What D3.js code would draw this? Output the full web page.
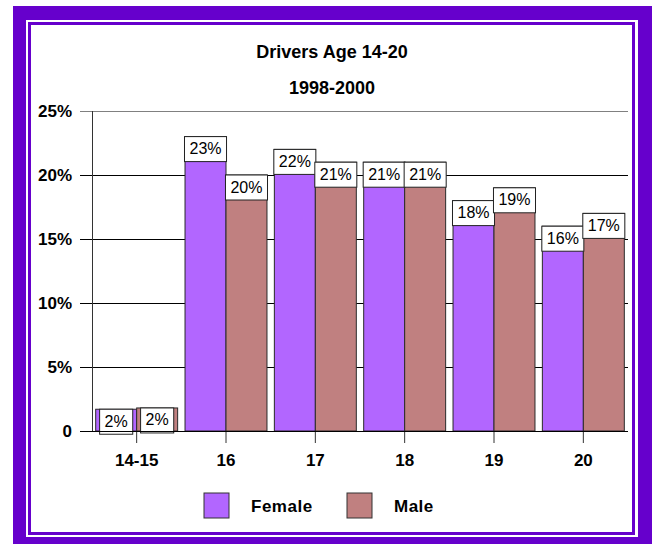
<!DOCTYPE html>
<html>
<head>
<meta charset="utf-8">
<script src="https://cdn.jsdelivr.net/npm/d3@7"></script>
<style>
  body { margin: 0; background: #fff; }
  text { font-family: "Liberation Sans", Arial, sans-serif; }
</style>
</head>
<body>
<script>
// Data (percent of drivers)
const ageGroups = ["14-15", "16", "17", "18", "19", "20"];
const series = ["Female", "Male"];
const femalePct = [1.7, 23, 22, 21, 18, 16];
const malePct = [1.8, 20, 21, 21, 19, 17];
const yTicks = [0, 5, 10, 15, 20, 25];
const titleLines = ["Drivers Age 14-20", "1998-2000"];

const colors = { Female: "#b266ff", Male: "#c08080" };
const purple = "#6600cc";

const width = 652, height = 544;
const plot = { left: 92, right: 628, top: 111, bottom: 431 };

const svg = d3.select("body").append("svg")
    .attr("width", width)
    .attr("height", height);

// double purple frame
svg.append("rect").attr("x", 13).attr("y", 6).attr("width", 639).attr("height", 538).attr("fill", purple);
svg.append("rect").attr("x", 26).attr("y", 20).attr("width", 612).attr("height", 517).attr("fill", "#fff");
svg.append("rect").attr("x", 29.5).attr("y", 23.5).attr("width", 604).attr("height", 510)
    .attr("fill", "#fff").attr("stroke", purple).attr("stroke-width", 3);

// title
svg.append("g").selectAll("text")
  .data(titleLines)
  .join("text")
    .attr("x", 332)
    .attr("y", (d, i) => 58 + i * 36)
    .attr("text-anchor", "middle")
    .style("font-size", "18px")
    .style("font-weight", "bold")
    .text(d => d);

// scales
const x = d3.scaleBand()
    .domain(ageGroups)
    .range([plot.left, plot.right]);

const xs = d3.scaleBand()
    .domain(series)
    .range([0, x.bandwidth()])
    .paddingOuter(0.09);

const y = d3.scaleLinear()
    .domain([0, 25])
    .range([plot.bottom, plot.top]);

// gridlines
svg.append("g").selectAll("line")
  .data(yTicks)
  .join("line")
    .attr("x1", plot.left - 12)
    .attr("x2", plot.right)
    .attr("y1", d => y(d) + 0.5)
    .attr("y2", d => y(d) + 0.5)
    .attr("stroke", d => d === 25 ? "#808080" : "#000")
    .attr("stroke-width", 1);

// y axis labels
const yAxis = svg.append("g")
    .attr("transform", `translate(${plot.left},0)`)
    .call(d3.axisLeft(y).tickValues(yTicks).tickSize(12).tickPadding(8)
      .tickFormat(d => d === 0 ? "0" : d + "%"));
yAxis.select(".domain").remove();
yAxis.selectAll(".tick line").remove();
yAxis.selectAll("text")
    .style("font-size", "17px")
    .style("font-weight", "bold")
    .attr("fill", "#000");

svg.append("line")
    .attr("x1", plot.left + 0.5).attr("x2", plot.left + 0.5)
    .attr("y1", plot.top).attr("y2", plot.bottom)
    .attr("stroke", "#333");

// bars
const rows = ageGroups.map((g, i) => ({
  group: g,
  values: [
    { key: "Female", value: femalePct[i] },
    { key: "Male", value: malePct[i] }
  ]
}));

const groups = svg.append("g").selectAll("g")
  .data(rows)
  .join("g")
    .attr("transform", d => `translate(${x(d.group)},0)`);

groups.selectAll("rect")
  .data(d => d.values)
  .join("rect")
    .attr("x", d => xs(d.key))
    .attr("y", d => y(d.value))
    .attr("width", xs.bandwidth())
    .attr("height", d => y(0) - y(d.value))
    .attr("fill", d => colors[d.key])
    .attr("stroke", "#2a2a2a")
    .attr("stroke-width", 1);

// x axis
const xAxis = svg.append("g")
    .attr("transform", `translate(0,${plot.bottom})`)
    .call(d3.axisBottom(x).tickSize(12).tickSizeOuter(0).tickPadding(11));
xAxis.select(".domain").remove();
xAxis.selectAll(".tick line").attr("stroke", "#333");
xAxis.selectAll("text")
    .style("font-size", "17px")
    .style("font-weight", "bold")
    .attr("fill", "#000");

svg.append("line")
    .attr("x1", plot.left - 12).attr("x2", plot.right)
    .attr("y1", plot.bottom + 0.5).attr("y2", plot.bottom + 0.5)
    .attr("stroke", "#000");

// value labels in white boxes
const labels = groups.selectAll("g.lbl")
  .data(d => d.values)
  .join("g")
    .attr("class", "lbl")
    .attr("transform", d => `translate(${xs(d.key) + xs.bandwidth() / 2},${y(d.value)})`);

labels.append("rect")
    .attr("fill", "#fff")
    .attr("stroke", "#222")
    .attr("stroke-width", 1);

labels.append("text")
    .attr("text-anchor", "middle")
    .attr("y", 17.5)
    .style("font-size", "16px")
    .text(d => Math.round(d.value) + "%");

labels.each(function() {
  const g = d3.select(this);
  const w = g.select("text").node().getComputedTextLength() + 10;
  g.select("rect")
    .attr("x", -w / 2)
    .attr("y", 0)
    .attr("width", w)
    .attr("height", 25);
});

// legend
const legend = svg.append("g").selectAll("g")
  .data(series)
  .join("g")
    .attr("transform", (d, i) => `translate(${204 + i * 143},493)`);

legend.append("rect")
    .attr("width", 25)
    .attr("height", 25)
    .attr("fill", d => colors[d])
    .attr("stroke", "#333");

legend.append("text")
    .attr("x", 47)
    .attr("y", 18.5)
    .style("font-size", "17px")
    .style("font-weight", "bold")
    .style("letter-spacing", "0.5px")
    .text(d => d);
</script>
</body>
</html>
